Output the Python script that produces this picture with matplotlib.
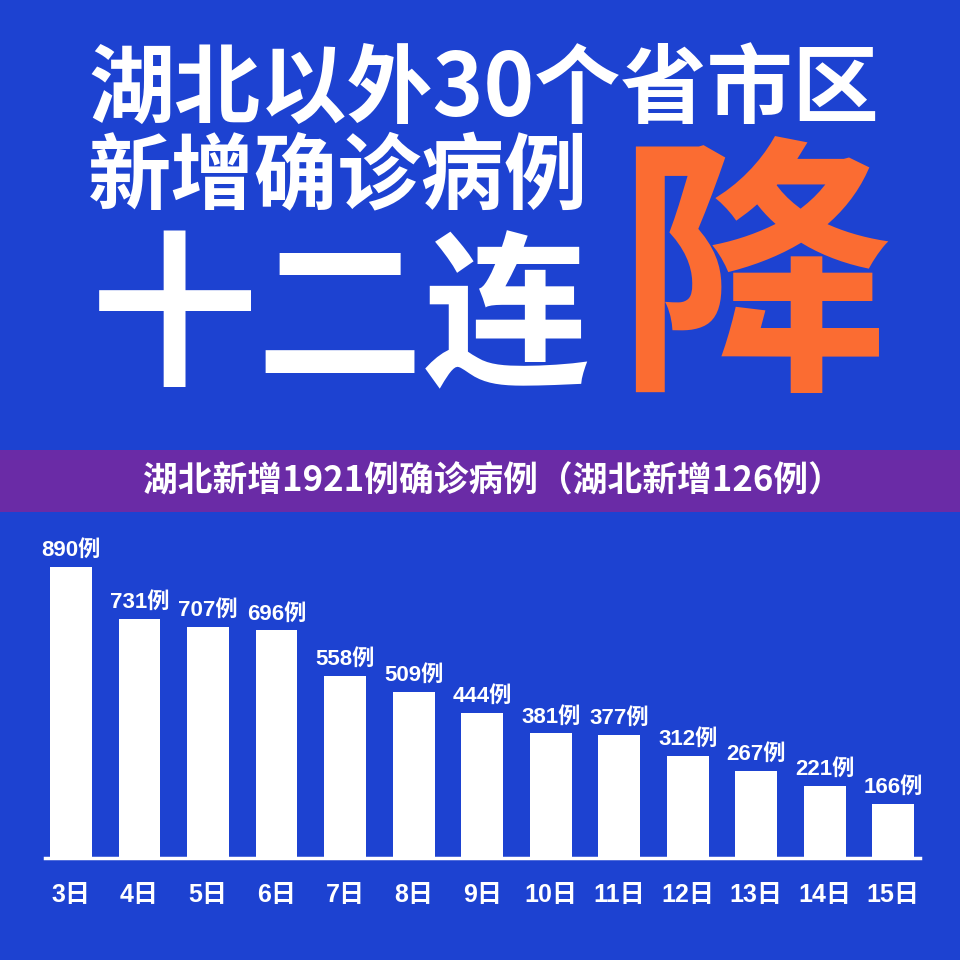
import matplotlib
matplotlib.use("Agg")
import matplotlib.pyplot as plt
from matplotlib.patches import Rectangle

plt.rcParams['font.family'] = ['Noto Sans CJK SC', 'DejaVu Sans']

# 数据
days = ['3日', '4日', '5日', '6日', '7日', '8日', '9日', '10日', '11日', '12日', '13日', '14日', '15日']
cases = [890, 731, 707, 696, 558, 509, 444, 381, 377, 312, 267, 221, 166]

title_line1 = '湖北以外30个省市区'
title_line2 = '新增确诊病例'
title_line3 = '十二连'
title_big = '降'
banner = '湖北新增1921例确诊病例（湖北新增126例）'

bg = '#1d42d1'
purple = '#6a2ba6'
orange = '#fb6c32'
num_font = ['Liberation Sans', 'Noto Sans CJK SC']

fig = plt.figure(figsize=(9.6, 9.6), dpi=100)
fig.patch.set_facecolor(bg)

# 标题
fig.text(0.092, 0.906, title_line1, color='white', fontsize=62, fontweight='bold',
         ha='left', va='center')
fig.text(0.092, 0.814, title_line2, color='white', fontsize=60, fontweight='bold',
         ha='left', va='center')
fig.text(0.095, 0.663, title_line3, color='white', fontsize=120, fontweight='bold',
         ha='left', va='center')
fig.text(0.786, 0.699, title_big, color=orange, fontsize=198, fontweight='bold',
         ha='center', va='center')

# 紫色横条
fig.patches.append(Rectangle((0, 1 - 512/960), 1, 62/960, transform=fig.transFigure,
                             facecolor=purple, edgecolor='none', zorder=0))
fig.text(0.513, 0.499, banner, color='white', fontsize=25, fontweight='bold',
         ha='center', va='center')

# 柱状图
ax = fig.add_axes([45/960, 1 - 858/960, 875/960, 327/960])
ax.set_facecolor('none')
x = range(len(days))
ax.bar(x, cases, width=0.61, color='white')
for i, v in enumerate(cases):
    ax.text(i, v + 18, f'{v}例', color='white', fontsize=16, fontweight='bold',
            family=num_font, ha='center', va='bottom')
ax.set_xlim(-0.38, 12.39)
ax.set_ylim(0, 1000)
ax.set_xticks(list(x))
ax.set_xticklabels(days, color='white', fontsize=18, fontweight='bold', family=num_font)
ax.tick_params(axis='x', length=0, pad=18)
ax.set_yticks([])
for s in ['top', 'right', 'left']:
    ax.spines[s].set_visible(False)
ax.spines['bottom'].set_color('white')
ax.spines['bottom'].set_linewidth(2.5)

fig.savefig('out.png', dpi=100, facecolor=fig.get_facecolor())
